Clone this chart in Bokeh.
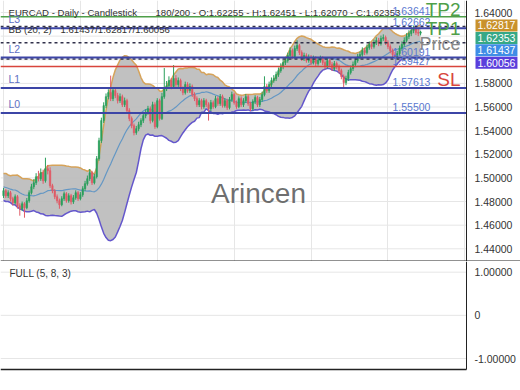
import numpy as np
import pandas as pd
from bokeh.plotting import figure
from bokeh.layouts import column
from bokeh.models import Range1d, FixedTicker, Label, ColumnDataSource
from bokeh.embed import file_html
from bokeh.resources import INLINE

FONT = "Liberation Sans"

# ---------------- data ----------------
opens = [1.4850, 1.4892, 1.4849, 1.4875, 1.4824, 1.4790, 1.4841, 1.4764, 1.4739, 1.4781,
         1.4748, 1.4807, 1.4875, 1.4925, 1.4959, 1.5010, 1.4993, 1.5044, 1.4976, 1.5078,
         1.5061, 1.4934, 1.4892, 1.4841, 1.4807, 1.4773, 1.4824, 1.4866, 1.4807, 1.4849,
         1.4798, 1.4832, 1.4875, 1.4824, 1.4858, 1.4909, 1.4951, 1.4993, 1.5044, 1.4959,
         1.5010, 1.5163, 1.5315, 1.5485, 1.5612, 1.5688, 1.5722, 1.5671, 1.5739, 1.5697,
         1.5654, 1.5688, 1.5620, 1.5654, 1.5570, 1.5502, 1.5442, 1.5383, 1.5417, 1.5451,
         1.5485, 1.5527, 1.5553, 1.5586, 1.5485, 1.5620, 1.5434, 1.5654, 1.5502, 1.5688,
         1.5756, 1.5781, 1.5824, 1.5773, 1.5841, 1.5790, 1.5824, 1.5756, 1.5722, 1.5790,
         1.5739, 1.5773, 1.5705, 1.5671, 1.5620, 1.5654, 1.5603, 1.5654, 1.5620, 1.5586,
         1.5637, 1.5603, 1.5671, 1.5629, 1.5688, 1.5612, 1.5654, 1.5595, 1.5663, 1.5705,
         1.5637, 1.5603, 1.5671, 1.5620, 1.5654, 1.5688, 1.5629, 1.5586, 1.5646, 1.5680,
         1.5620, 1.5663, 1.5705, 1.5773, 1.5739, 1.5790, 1.5824, 1.5841, 1.5875, 1.5908,
         1.5942, 1.5976, 1.5993, 1.6036, 1.6078, 1.6027, 1.6095, 1.6120, 1.6061, 1.6010,
         1.6036, 1.5993, 1.6019, 1.5976, 1.6010, 1.5968, 1.5993, 1.6010, 1.5976, 1.5942,
         1.5993, 1.5959, 1.5925, 1.5968, 1.5942, 1.5908, 1.5858, 1.5807, 1.5841, 1.5892,
         1.5925, 1.5959, 1.5993, 1.6027, 1.6044, 1.6078, 1.6061, 1.6103, 1.6129, 1.6112,
         1.6146, 1.6163, 1.6137, 1.6180, 1.6188, 1.6146, 1.6112, 1.6078, 1.6044, 1.6027,
         1.6053, 1.6095, 1.6129, 1.6163, 1.6197, 1.6222, 1.6247, 1.6264, 1.6230, 1.62255]
highs = [1.4915, 1.4905, 1.4895, 1.4890, 1.4840, 1.4860, 1.4855, 1.4785, 1.4800, 1.4795,
         1.4830, 1.4895, 1.4950, 1.4990, 1.5040, 1.5060, 1.5080, 1.5070, 1.5171, 1.5110,
         1.5090, 1.4950, 1.4905, 1.4860, 1.4825, 1.4845, 1.4885, 1.4880, 1.4870, 1.4865,
         1.4855, 1.4895, 1.4890, 1.4880, 1.4930, 1.4975, 1.5020, 1.5075, 1.5060, 1.5035,
         1.5185, 1.5340, 1.5510, 1.5640, 1.5715, 1.5750, 1.5866, 1.5765, 1.5760, 1.5720,
         1.5715, 1.5705, 1.5680, 1.5670, 1.5590, 1.5520, 1.5460, 1.5440, 1.5475, 1.5505,
         1.5550, 1.5580, 1.5610, 1.5605, 1.5645, 1.5640, 1.5675, 1.5670, 1.5720, 1.5930,
         1.5820, 1.5860, 1.5845, 1.5955, 1.5870, 1.5850, 1.5840, 1.5775, 1.5815, 1.5810,
         1.5800, 1.5790, 1.5725, 1.5690, 1.5675, 1.5670, 1.5675, 1.5670, 1.5640, 1.5660,
         1.5655, 1.5695, 1.5690, 1.5710, 1.5705, 1.5675, 1.5670, 1.5685, 1.5730, 1.5720,
         1.5655, 1.5690, 1.5690, 1.5675, 1.5710, 1.5705, 1.5645, 1.5665, 1.5700, 1.5695,
         1.5685, 1.5730, 1.5860, 1.5795, 1.5815, 1.5850, 1.5870, 1.5900, 1.5935, 1.5970,
         1.6000, 1.6025, 1.6060, 1.6105, 1.6095, 1.6120, 1.6165, 1.6135, 1.6080, 1.6060,
         1.6055, 1.6045, 1.6040, 1.6035, 1.6030, 1.6020, 1.6035, 1.6030, 1.5995, 1.6015,
         1.6010, 1.5980, 1.5990, 1.5985, 1.5960, 1.5925, 1.5875, 1.5865, 1.5915, 1.5950,
         1.5985, 1.6020, 1.6050, 1.6070, 1.6105, 1.6100, 1.6130, 1.6155, 1.6150, 1.6170,
         1.6190, 1.6185, 1.6205, 1.6215, 1.6205, 1.6165, 1.6130, 1.6095, 1.6065, 1.6075,
         1.6120, 1.6155, 1.6190, 1.6225, 1.6250, 1.6275, 1.6290, 1.6285, 1.6260, 1.62451]
lows = [1.4830, 1.4830, 1.4830, 1.4800, 1.4765, 1.4775, 1.4740, 1.4680, 1.4720, 1.4663,
        1.4735, 1.4790, 1.4860, 1.4905, 1.4940, 1.4970, 1.4975, 1.4950, 1.4960, 1.5030,
        1.4915, 1.4870, 1.4820, 1.4785, 1.4739, 1.4760, 1.4805, 1.4790, 1.4790, 1.4775,
        1.4780, 1.4815, 1.4805, 1.4810, 1.4840, 1.4890, 1.4935, 1.4975, 1.4940, 1.4945,
        1.4995, 1.5145, 1.5295, 1.5465, 1.5590, 1.5665, 1.5650, 1.5650, 1.5675, 1.5630,
        1.5635, 1.5600, 1.5600, 1.5550, 1.5480, 1.5420, 1.5360, 1.5365, 1.5395, 1.5430,
        1.5465, 1.5505, 1.5535, 1.5460, 1.5470, 1.5415, 1.5420, 1.5485, 1.5490, 1.5670,
        1.5735, 1.5760, 1.5750, 1.5755, 1.5770, 1.5770, 1.5735, 1.5700, 1.5705, 1.5720,
        1.5720, 1.5685, 1.5650, 1.5600, 1.5600, 1.5580, 1.5585, 1.5600, 1.5485, 1.5565,
        1.5585, 1.5590, 1.5610, 1.5610, 1.5595, 1.5595, 1.5575, 1.5580, 1.5645, 1.5620,
        1.5585, 1.5590, 1.5600, 1.5600, 1.5635, 1.5610, 1.5565, 1.5570, 1.5625, 1.5600,
        1.5600, 1.5645, 1.5690, 1.5720, 1.5720, 1.5770, 1.5805, 1.5820, 1.5855, 1.5890,
        1.5920, 1.5955, 1.5975, 1.6015, 1.6005, 1.6010, 1.6075, 1.6040, 1.5990, 1.5990,
        1.5975, 1.5975, 1.5955, 1.5960, 1.5945, 1.5950, 1.5975, 1.5955, 1.5920, 1.5925,
        1.5940, 1.5905, 1.5905, 1.5920, 1.5885, 1.5835, 1.5764, 1.5785, 1.5820, 1.5875,
        1.5905, 1.5940, 1.5975, 1.6005, 1.6025, 1.6040, 1.6045, 1.6085, 1.6090, 1.6095,
        1.6125, 1.6115, 1.6120, 1.6160, 1.6125, 1.6090, 1.6055, 1.6020, 1.6005, 1.6005,
        1.6035, 1.6075, 1.6110, 1.6145, 1.6175, 1.6200, 1.6225, 1.6210, 1.6200, 1.62070]
closes = [1.4892, 1.4849, 1.4875, 1.4824, 1.4790, 1.4841, 1.4764, 1.4739, 1.4781, 1.4748,
          1.4807, 1.4875, 1.4925, 1.4959, 1.5010, 1.4993, 1.5044, 1.4976, 1.5078, 1.5061,
          1.4934, 1.4892, 1.4841, 1.4807, 1.4773, 1.4824, 1.4866, 1.4807, 1.4849, 1.4798,
          1.4832, 1.4875, 1.4824, 1.4858, 1.4909, 1.4951, 1.4993, 1.5044, 1.4959, 1.5010,
          1.5163, 1.5315, 1.5485, 1.5612, 1.5688, 1.5722, 1.5671, 1.5739, 1.5697, 1.5654,
          1.5688, 1.5620, 1.5654, 1.5570, 1.5502, 1.5442, 1.5383, 1.5417, 1.5451, 1.5485,
          1.5527, 1.5553, 1.5586, 1.5485, 1.5620, 1.5434, 1.5654, 1.5502, 1.5688, 1.5756,
          1.5781, 1.5824, 1.5773, 1.5841, 1.5790, 1.5824, 1.5756, 1.5722, 1.5790, 1.5739,
          1.5773, 1.5705, 1.5671, 1.5620, 1.5654, 1.5603, 1.5654, 1.5620, 1.5586, 1.5637,
          1.5603, 1.5671, 1.5629, 1.5688, 1.5612, 1.5654, 1.5595, 1.5663, 1.5705, 1.5637,
          1.5603, 1.5671, 1.5620, 1.5654, 1.5688, 1.5629, 1.5586, 1.5646, 1.5680, 1.5620,
          1.5663, 1.5705, 1.5773, 1.5739, 1.5790, 1.5824, 1.5841, 1.5875, 1.5908, 1.5942,
          1.5976, 1.5993, 1.6036, 1.6078, 1.6027, 1.6095, 1.6120, 1.6061, 1.6010, 1.6036,
          1.5993, 1.6019, 1.5976, 1.6010, 1.5968, 1.5993, 1.6010, 1.5976, 1.5942, 1.5993,
          1.5959, 1.5925, 1.5968, 1.5942, 1.5908, 1.5858, 1.5807, 1.5841, 1.5892, 1.5925,
          1.5959, 1.5993, 1.6027, 1.6044, 1.6078, 1.6061, 1.6103, 1.6129, 1.6112, 1.6146,
          1.6163, 1.6137, 1.6180, 1.6188, 1.6146, 1.6112, 1.6078, 1.6044, 1.6027, 1.6053,
          1.6095, 1.6129, 1.6163, 1.6197, 1.6222, 1.6247, 1.6264, 1.6230, 1.62255, 1.62353]
# closes before the visible window (they only feed the Bollinger band)
prior_closes = [1.494, 1.501, 1.498, 1.491, 1.486, 1.495, 1.502, 1.499, 1.492, 1.485,
                1.489, 1.497, 1.500, 1.491, 1.484, 1.488, 1.495, 1.488, 1.483]

y_ticks = [1.44, 1.46, 1.48, 1.50, 1.52, 1.54, 1.56, 1.58, 1.60, 1.62, 1.64]
osc_ticks = [1, 0, -1]
osc_tick_labels = ["1.00000", "0", "-1.00000"]
x_grid_ticks = [0, 33, 66, 99, 132, 165, 198]

tp2, l3, l2, sl, l1, l0 = 1.63641, 1.62662, 1.60191, 1.59427, 1.57613, 1.55500
bb_mid_v, bb_up_v, bb_lo_v = 1.61437, 1.62817, 1.60056
last_close = 1.62353

title_a = "EURCAD - Daily - Candlestick"
title_b = "180/200 - O:1.62255 - H:1.62451 - L:1.62070 - C:1.62353"
bb_title = "BB (20, 2)"
bb_vals = "1.61437/1.62817/1.60056"
osc_title = "FULL (5, 8, 3)"

# ---------------- derived ----------------
n = min(len(opens), len(highs), len(lows), len(closes))
idx = np.arange(n)
o = np.array(opens[:n]); h = np.array(highs[:n]); lo = np.array(lows[:n]); c = np.array(closes[:n])
up = c >= o
col = np.where(up, "#2a9f5c", "#e05a66")

series = pd.Series(prior_closes + list(c))
mid = series.rolling(20).mean().to_numpy()[len(prior_closes):]
sd = series.rolling(20).std(ddof=0).to_numpy()[len(prior_closes):]
upper = mid + 2 * sd
lower = mid - 2 * sd

# layout geometry (pixels)
W, FH = 520, 261.0
PLOT_W = 466.0          # price area; the rest is the price scale
CANDLE_PX = 2.33
X0 = -3.0 / CANDLE_PX
X_EDGE = X0 + PLOT_W / CANDLE_PX
X1 = X0 + W / CANDLE_PX
Y0, Y1 = 1.42924, 1.65017
PXU = FH / (Y1 - Y0)

# lower panel geometry
H2 = 129.0
O_TOP = 1.248
O_PXU = 43.15
O_BOT = O_TOP - H2 / O_PXU
O_FRAME_BOT = O_TOP - 108.0 / O_PXU


def px2price(py):
    return Y1 - py / PXU


xr = Range1d(X0, X1)
p = figure(width=W, height=int(FH), x_range=xr, y_range=Range1d(Y0, Y1),
           y_axis_location=None, x_axis_location=None, toolbar_location=None,
           output_backend="svg", min_border=0)
p.outline_line_color = None
p.ygrid.visible = False
p.xgrid.ticker = FixedTicker(ticks=x_grid_ticks)
p.xgrid.grid_line_color = "#e6e6e6"

# horizontal grid (price area only)
p.segment(x0=[X0] * len(y_ticks), y0=y_ticks, x1=[X_EDGE] * len(y_ticks), y1=y_ticks,
          line_color="#e6e6e6", line_width=1)

# Bollinger band
p.varea(x=idx, y1=lower, y2=upper, fill_color="#bababa", fill_alpha=0.9)
p.line(idx, upper, line_color="#d6a35a", line_width=1.5)
p.line(idx, lower, line_color="#6457cc", line_width=1.5)
p.line(idx, mid, line_color="#6497c4", line_width=1.2)

# candles
src = ColumnDataSource(dict(x=idx, o=o, h=h, l=lo, c=c, top=np.maximum(o, c),
                            bot=np.minimum(o, c), color=col))
p.segment(x0="x", y0="l", x1="x", y1="h", source=src, line_color="color", line_width=1)
p.vbar(x="x", width=0.6, top="top", bottom="bot", source=src, fill_color="color",
       line_color="color", line_width=0.6)


def hline(fig, v, color, width, dash="solid"):
    fig.segment(x0=[X0], y0=[v], x1=[X_EDGE], y1=[v], line_color=color, line_width=width,
                line_dash=dash)


# BB dashed levels
for v in (bb_up_v, bb_mid_v, bb_lo_v):
    hline(p, v, "#30304a", 1.5, "3 3")
# level lines
hline(p, tp2, "#4f9f49", 1.5)
for v in (l3, l2, l1, l0):
    hline(p, v, "#3c45a6", 2)
hline(p, sl, "#d8453c", 1.5)

# price-scale line and panel separator
p.segment(x0=[X_EDGE], y0=[Y0], x1=[X_EDGE], y1=[Y1], line_color="#222222", line_width=1)
p.segment(x0=[X0], y0=[px2price(FH - 0.5)], x1=[X1], y1=[px2price(FH - 0.5)],
          line_color="#222222", line_width=1)


def lab(fig, text, x, y, size, color, yoff=0, align="left", alpha=1.0, bg=None):
    kw = {}
    if bg is not None:
        kw = dict(background_fill_color=bg, background_fill_alpha=1.0, padding=2)
    fig.add_layout(Label(x=x, y=y, x_units="screen", y_offset=yoff, text=text,
                         text_font=FONT, text_font_size=size, text_color=color,
                         text_align=align, text_baseline="middle", text_alpha=alpha, **kw))


# price badges positions (stacked so they do not overlap)
badges = [(bb_up_v, "#c9922c"), (last_close, "#36a886"), (bb_mid_v, "#3f8de6"),
          (bb_lo_v, "#5a3edc")]
badge_px = []
prev = -1e9
for v, bgc in badges:
    py = max((Y1 - v) * PXU - 1, prev + 12.4)
    prev = py
    badge_px.append(py)

# price scale labels (the ones hidden behind a badge are skipped)
for t in y_ticks:
    tpx = (Y1 - t) * PXU
    if all(abs(tpx - b) > 7 for b in badge_px):
        lab(p, f"{t:.5f}", 474, t, "10.5px", "#333333")

for (v, bgc), py in zip(badges, badge_px):
    lab(p, f"{v:.5f}", 475, px2price(py), "10.5px", "white", bg=bgc)

# header texts
lab(p, title_a, 8, px2price(12), "9.6px", "#333333")
lab(p, title_b, 155, px2price(12), "9.6px", "#333333")
lab(p, bb_title, 8, px2price(29), "9.6px", "#333333")
lab(p, bb_vals, 60, px2price(29), "9.6px", "#333333")

# left level names
for name, v in (("L3", l3), ("L2", l2), ("L1", l1), ("L0", l0)):
    lab(p, name, 8, v, "10.5px", "#5e6fc4", yoff=9)

# level values
for v in (tp2, l3, l2, sl, l1, l0):
    lab(p, f"{v:.5f}", 392, v, "10.5px", "#5a78d0", yoff=6)

# big tags
lab(p, "TP2", 460, tp2, "19px", "#4f9f49", yoff=7, align="right")
lab(p, "TP1", 460, l3, "19px", "#4f9f49", yoff=-0.5, align="right")
lab(p, "Price", 460, last_close, "18px", "#8a8a8a", yoff=-12.5, align="right")
lab(p, "SL", 460, sl, "19px", "#d8453c", yoff=-13, align="right")

# watermark
lab(p, "Arincen", 258, px2price(193), "28px", "#555555", align="center", alpha=0.85)

# ---------------- lower panel ----------------
p2 = figure(width=W, height=int(H2), x_range=xr, y_range=Range1d(O_BOT, O_TOP),
            y_axis_location=None, x_axis_location=None, toolbar_location=None,
            output_backend="svg", min_border=0)
p2.outline_line_color = None
p2.xgrid.visible = False
p2.ygrid.visible = False
p2.segment(x0=[X0] * len(osc_ticks), y0=osc_ticks, x1=[X_EDGE] * len(osc_ticks),
           y1=osc_ticks, line_color="#e6e6e6", line_width=1)
# panel frame: right scale line and bottom border
p2.segment(x0=[X_EDGE], y0=[O_FRAME_BOT], x1=[X_EDGE], y1=[O_TOP], line_color="#222222",
           line_width=1)
p2.segment(x0=[X0], y0=[O_FRAME_BOT], x1=[X_EDGE], y1=[O_FRAME_BOT], line_color="#222222",
           line_width=1.5)
for t, s in zip(osc_ticks, osc_tick_labels):
    lab(p2, s, 474, t, "10.5px", "#333333")
lab(p2, osc_title, 9, O_TOP - 12.0 / O_PXU, "10px", "#333333")

layout = column(p, p2, spacing=0)
open("out.html", "w").write(file_html(layout, INLINE))
